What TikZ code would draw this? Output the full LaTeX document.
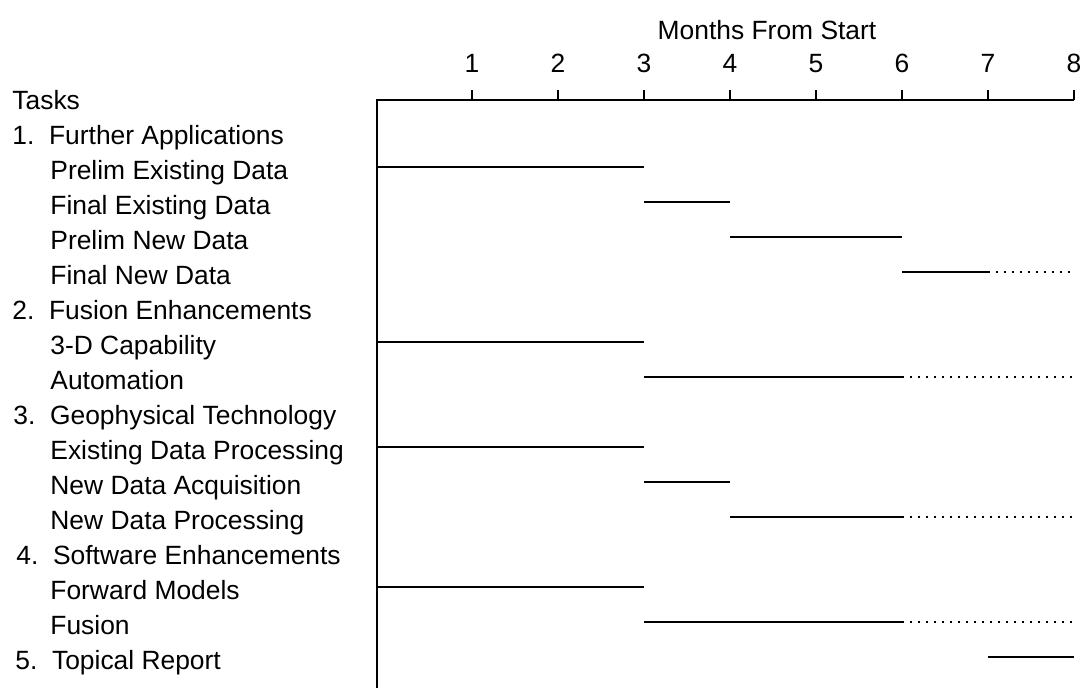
\documentclass[tikz,border=0pt]{standalone}
\usepackage{fontspec}
\setmainfont{Liberation Sans}
\usetikzlibrary{positioning}

\begin{document}
\begin{tikzpicture}[
  x=0.5pt,y=-0.5pt,
  every node/.style={font=\fontsize{13.2}{15}\selectfont,inner sep=0pt},
  task/.style={anchor=base west},
  axisline/.style={line width=0.9pt},
  bar/.style={line width=1pt},
  later/.style={line width=1.1pt,dash pattern=on 1.1pt off 2.9pt}
]
  \useasboundingbox (0,0) rectangle (1084,688);
  % month axis
  \coordinate (m0) at (377,100);
  \foreach \i in {1,...,8}
    \coordinate (m\i) at (386+86*\i,100);
  \draw[axisline] (377,688) -- (m0) -- (m8);
  \foreach \i in {1,...,8} {
    \draw[axisline] (m\i) -- ++(0,-10);
    \node[anchor=base] (n\i) at (386+86*\i,72.5) {\i};
  }
  \node (title) at (767,30) {Months From Start};
  % task rows
  \foreach \lab/\ind [count=\k from 0] in {
      Tasks/12, 1.\ \ Further Applications/12, Prelim Existing Data/50,
      Final Existing Data/50, Prelim New Data/50, Final New Data/50,
      2.\ \ Fusion Enhancements/12, 3-D Capability/50, Automation/50,
      3.\ \ Geophysical Technology/13, Existing Data Processing/50,
      New Data Acquisition/50, New Data Processing/50,
      4.\ \ Software Enhancements/16, Forward Models/50, Fusion/50,
      5.\ \ Topical Report/15} {
    \coordinate (r\k) at (0,97+35*\k);
    \node[task] (row\k) at (\ind,110+35*\k) {\lab};
  }
  % bars
  \draw[bar] (m0 |- r2) -- (m3 |- r2);
  \draw[bar] (m3 |- r3) -- (m4 |- r3);
  \draw[bar] (m4 |- r4) -- (m6 |- r4);
  \draw[bar] (m6 |- r5) -- (m7 |- r5);
  \draw[later] (m7 |- r5) -- (m8 |- r5);
  \draw[bar] (m0 |- r7) -- (m3 |- r7);
  \draw[bar] (m3 |- r8) -- (m6 |- r8);
  \draw[later] (m6 |- r8) -- (m8 |- r8);
  \draw[bar] (m0 |- r10) -- (m3 |- r10);
  \draw[bar] (m3 |- r11) -- (m4 |- r11);
  \draw[bar] (m4 |- r12) -- (m6 |- r12);
  \draw[later] (m6 |- r12) -- (m8 |- r12);
  \draw[bar] (m0 |- r14) -- (m3 |- r14);
  \draw[bar] (m3 |- r15) -- (m6 |- r15);
  \draw[later] (m6 |- r15) -- (m8 |- r15);
  \draw[bar] (m7 |- r16) -- (m8 |- r16);
\end{tikzpicture}
\end{document}
